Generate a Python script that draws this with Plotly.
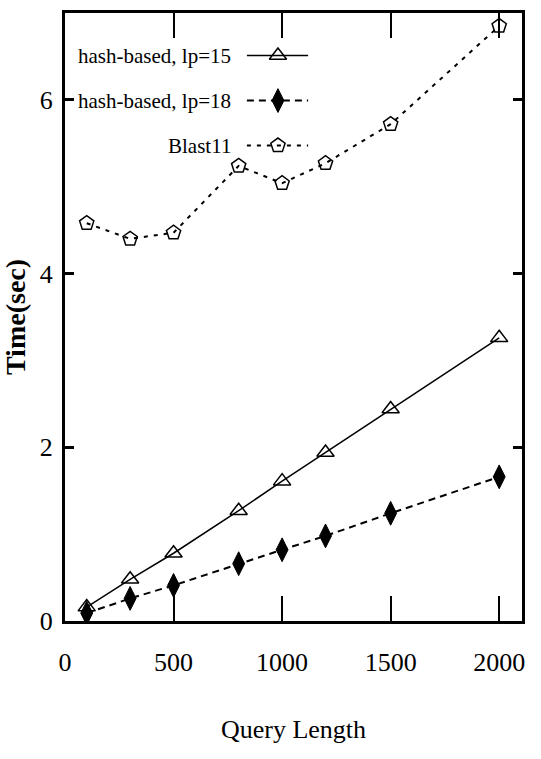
import plotly.graph_objects as go

query_length = [100, 300, 500, 800, 1000, 1200, 1500, 2000]
hash_lp15 = [0.16, 0.48, 0.78, 1.27, 1.61, 1.94, 2.44, 3.26]
hash_lp18 = [0.09, 0.26, 0.41, 0.66, 0.82, 0.98, 1.24, 1.66]
blast11 = [4.58, 4.40, 4.47, 5.24, 5.04, 5.27, 5.72, 6.85]

series_names = ["hash-based, lp=15", "hash-based, lp=18", "Blast11"]
x_ticks = [0, 500, 1000, 1500, 2000]
y_ticks = [0, 2, 4, 6]

FONT = "Liberation Serif"
styles = [
    dict(line=dict(color="black", width=1.5, dash="solid"),
         marker=dict(symbol="triangle-up-open", size=15, color="black", line=dict(width=1.5, color="black"))),
    dict(line=dict(color="black", width=2, dash="7px,5px"),
         marker=dict(symbol="diamond-tall", size=17, color="black", line=dict(width=1, color="black"))),
    dict(line=dict(color="black", width=2, dash="4px,6px"),
         marker=dict(symbol="pentagon-open", size=15, color="black", line=dict(width=1.5, color="black"))),
]

fig = go.Figure()
for name, ys, st in zip(series_names, [hash_lp15, hash_lp18, blast11], styles):
    fig.add_trace(go.Scatter(x=query_length, y=ys, mode="lines+markers", name=name,
                             line=st["line"], marker=st["marker"], showlegend=False))

# custom legend (text left of sample, as in reference)
leg_y = [0.930, 0.856, 0.782]
for name, yy, st in zip(series_names, leg_y, styles):
    fig.add_trace(go.Scatter(x=[0.398, 0.532], y=[yy, yy], mode="lines", line=st["line"],
                             xaxis="x2", yaxis="y2", showlegend=False, hoverinfo="skip"))
    fig.add_trace(go.Scatter(x=[0.466], y=[yy], mode="markers", marker=st["marker"],
                             xaxis="x2", yaxis="y2", showlegend=False, hoverinfo="skip"))
    fig.add_annotation(x=0.368, y=yy, xref="paper", yref="paper", text=name, showarrow=False,
                       xanchor="right", yanchor="middle", font=dict(family=FONT, size=21, color="black"))

fig.update_layout(
    width=541, height=759,
    margin=dict(l=65, r=19, t=10, b=138),
    paper_bgcolor="white", plot_bgcolor="white",
    font=dict(family=FONT, size=26, color="black"),
    xaxis=dict(range=[0, 2105], tickvals=x_ticks, ticks="inside", ticklen=25, tickwidth=1.5,
               tickcolor="black", showline=True, linewidth=3, linecolor="black", mirror="ticks",
               showgrid=False, zeroline=False, ticklabelstandoff=16,
               tickfont=dict(family=FONT, size=26),
               title=dict(text="Query Length", font=dict(family=FONT, size=26), standoff=44)),
    yaxis=dict(range=[0, 7], tickvals=y_ticks, ticks="inside", ticklen=9, tickwidth=3,
               tickcolor="black", showline=True, linewidth=3, linecolor="black", mirror="ticks",
               showgrid=False, zeroline=False, ticklabelstandoff=4,
               tickfont=dict(family=FONT, size=26),
               title=dict(text="<b>Time(sec)</b>", font=dict(family=FONT, size=28), standoff=8)),
    xaxis2=dict(range=[0, 1], overlaying="x", visible=False),
    yaxis2=dict(range=[0, 1], overlaying="y", visible=False),
)

fig.write_html("out.html")
